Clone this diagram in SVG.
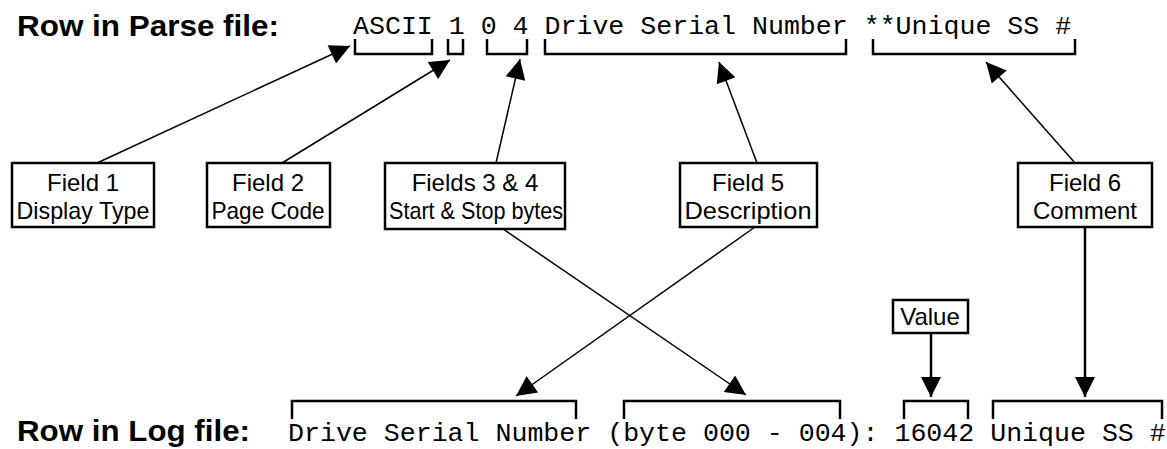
<svg xmlns="http://www.w3.org/2000/svg" width="1167" height="449" viewBox="0 0 1167 449">
<style>
.title{font-family:"Liberation Sans",Arial,sans-serif;font-weight:bold;font-size:30px;fill:#000}
.mono{font-family:"Liberation Mono","Courier New",monospace;font-size:26.6px;fill:#000}
.box{fill:#fff;stroke:#000;stroke-width:2.5}
.lbl{font-family:"Liberation Sans",Arial,sans-serif;font-size:24px;fill:#000;text-anchor:middle}
.br{fill:none;stroke:#000;stroke-width:2.5}
.thin{fill:none;stroke:#000;stroke-width:1.5}
.thick{fill:none;stroke:#000;stroke-width:2.5}
</style>
<defs>
<marker id="ah" viewBox="0 0 10 10" refX="10" refY="5" markerWidth="28" markerHeight="20" markerUnits="userSpaceOnUse" orient="auto">
<path d="M0,0 L10,5 L0,10 z" fill="#000"/>
</marker>
</defs>
<text class="title" x="17" y="36" textLength="262" lengthAdjust="spacingAndGlyphs">Row in Parse file:</text>
<text class="mono" x="353" y="34">ASCII 1 0 4 Drive Serial Number **Unique SS #</text>
<g id="top-brackets">
<path class="br" d="M355,39 V54 H432 V39"/>
<path class="br" d="M448,39 V54 H463 V39"/>
<path class="br" d="M487,39 V54 H527 V39"/>
<path class="br" d="M545,39 V54 H846 V39"/>
<path class="br" d="M873,39 V54 H1075 V39"/>
</g>
<g id="field1"><rect class="box" x="12" y="163" width="142" height="64"/><text class="lbl" x="83" y="191">Field 1</text><text class="lbl" x="83" y="219" textLength="133" lengthAdjust="spacingAndGlyphs">Display Type</text></g>
<g id="field2"><rect class="box" x="207" y="163" width="123" height="64"/><text class="lbl" x="268" y="191">Field 2</text><text class="lbl" x="268" y="219" textLength="113" lengthAdjust="spacingAndGlyphs">Page Code</text></g>
<g id="field34"><rect class="box" x="385" y="163" width="180" height="66"/><text class="lbl" x="475" y="191">Fields 3 &amp; 4</text><text class="lbl" x="476" y="219" textLength="174" lengthAdjust="spacingAndGlyphs">Start &amp; Stop bytes</text></g>
<g id="field5"><rect class="box" x="680" y="163" width="137" height="64"/><text class="lbl" x="748" y="191">Field 5</text><text class="lbl" x="748" y="219" textLength="127" lengthAdjust="spacingAndGlyphs">Description</text></g>
<g id="field6"><rect class="box" x="1018" y="163" width="134" height="64"/><text class="lbl" x="1085" y="191">Field 6</text><text class="lbl" x="1085" y="219">Comment</text></g>
<g id="value"><rect class="box" x="893" y="300" width="75" height="33"/><text class="lbl" x="930" y="325">Value</text></g>
<g id="connectors">
<line class="thin" x1="97" y1="163" x2="350" y2="46" marker-end="url(#ah)"/>
<line class="thin" x1="282" y1="163" x2="450" y2="60" marker-end="url(#ah)"/>
<line class="thin" x1="496" y1="163" x2="520" y2="59" marker-end="url(#ah)"/>
<line class="thin" x1="757" y1="163" x2="719" y2="62" marker-end="url(#ah)"/>
<line class="thin" x1="1075" y1="163" x2="986" y2="62" marker-end="url(#ah)"/>
<line class="thin" x1="503" y1="229" x2="746" y2="395" marker-end="url(#ah)"/>
<line class="thin" x1="755" y1="227" x2="516" y2="396" marker-end="url(#ah)"/>
<line class="thick" x1="931" y1="333" x2="931" y2="397" marker-end="url(#ah)"/>
<line class="thick" x1="1085" y1="227" x2="1085" y2="397" marker-end="url(#ah)"/>
</g>
<g id="bottom-brackets">
<path class="br" d="M292,419 V401 H576 V419"/>
<path class="br" d="M624,419 V401 H840 V419"/>
<path class="br" d="M904,419 V401 H968 V419"/>
<path class="br" d="M993,419 V401 H1162 V419"/>
</g>
<text class="title" x="17" y="441" textLength="233" lengthAdjust="spacingAndGlyphs">Row in Log file:</text>
<text class="mono" x="288" y="441">Drive Serial Number (byte 000 - 004): 16042 Unique SS #</text>
</svg>
